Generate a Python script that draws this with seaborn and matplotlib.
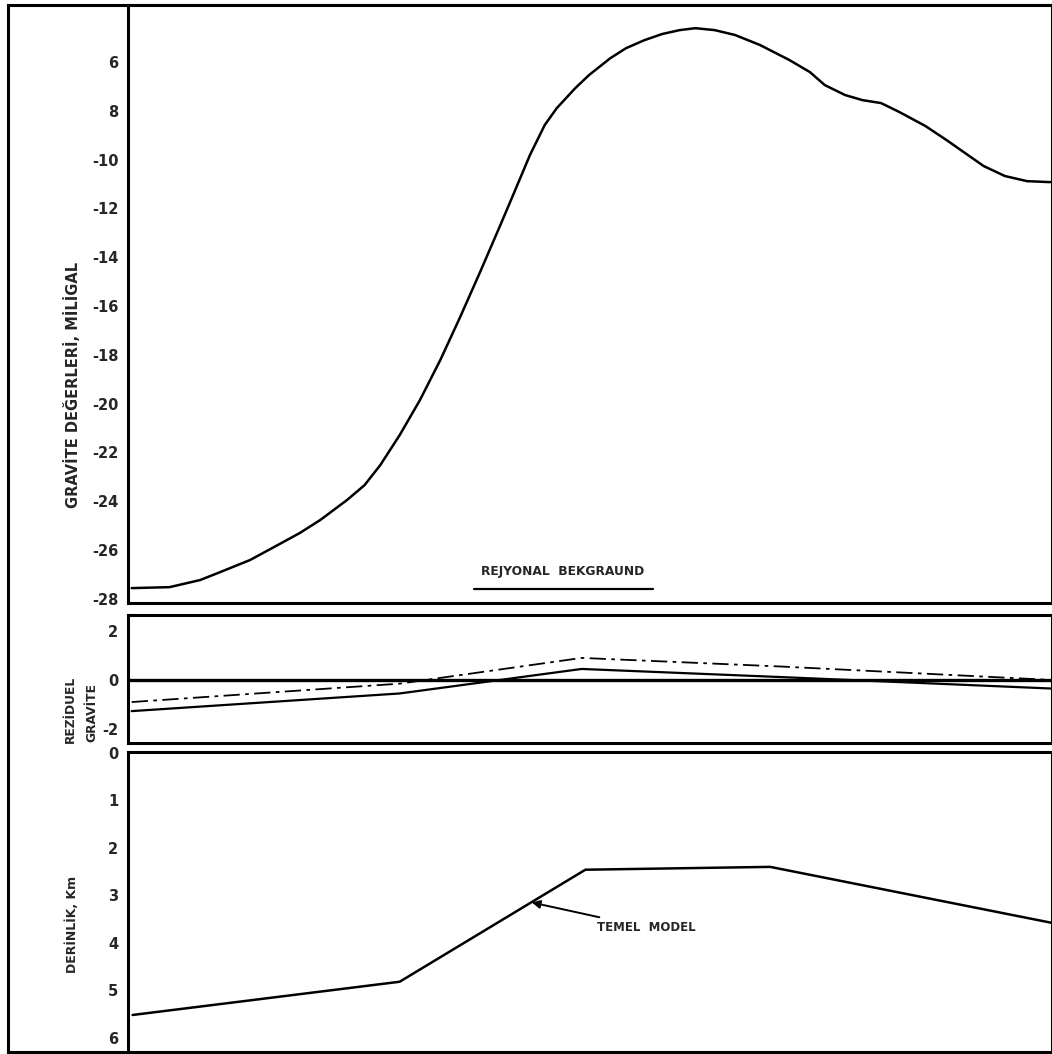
import matplotlib
matplotlib.use("Agg")
import matplotlib.pyplot as plt
import seaborn as sns
import pandas as pd

sns.set_style("white")
plt.rcParams['font.family'] = ['DejaVu Sans']
plt.rcParams['font.weight'] = 'bold'

# ---- data (distance along profile, 0-100) ----
grav_x = [0.4, 4.5, 7.8, 10.0, 13.2, 15.4, 18.6, 20.8, 23.7, 25.6, 27.3, 29.4, 31.6,
          33.8, 35.9, 38.1, 40.3, 41.9, 43.5, 45.1, 46.4, 48.4, 49.9, 52.2, 53.9,
          55.9, 57.8, 59.7, 61.4, 63.5, 65.7, 68.4, 71.6, 73.8, 75.4, 77.6, 79.5,
          81.5, 83.5, 86.3, 88.6, 90.6, 92.6, 94.9, 97.3, 99.8]
grav_y = [-27.56, -27.52, -27.23, -26.90, -26.41, -25.96, -25.30, -24.77, -23.95, -23.34,
          -22.52, -21.29, -19.85, -18.21, -16.49, -14.61, -12.68, -11.25, -9.81, -8.58,
          -7.89, -7.07, -6.53, -5.84, -5.43, -5.10, -4.85, -4.69, -4.61, -4.69, -4.89,
          -5.30, -5.92, -6.41, -6.94, -7.35, -7.56, -7.68, -8.05, -8.62, -9.20, -9.73,
          -10.26, -10.67, -10.88, -10.92]

model_x = [0.4, 29.4, 49.1, 70.6, 100.0]
resid_solid = [-1.27, -0.55, 0.45, 0.12, -0.35]
resid_dashdot = [-0.9, -0.15, 0.9, 0.55, 0.0]

depth_x = [0.5, 29.4, 49.5, 69.5, 100.0]
depth_km = [5.52, 4.82, 2.46, 2.4, 3.58]

grav_ticks = [-6, -8, -10, -12, -14, -16, -18, -20, -22, -24, -26, -28]
grav_labels = ["6", "8", "-10", "-12", "-14", "-16", "-18", "-20", "-22", "-24", "-26", "-28"]
resid_ticks = [2, 0, -2]
depth_ticks = [0, 1, 2, 3, 4, 5, 6]

df_g = pd.DataFrame({"x": grav_x, "g": grav_y})
df_r = pd.DataFrame({"x": model_x, "s": resid_solid, "d": resid_dashdot})
df_d = pd.DataFrame({"x": depth_x, "z": depth_km})

W, H = 1052, 1054
fig = plt.figure(figsize=(W / 100, H / 100), dpi=100)

# outer frame
bg = fig.add_axes([8 / W, 2 / H, 1 - 8 / W, 1 - 7 / H], zorder=0)
bg.set_xticks([])
bg.set_yticks([])
for s in ["left", "top", "bottom"]:
    bg.spines[s].set_linewidth(2.2)
    bg.spines[s].set_color("black")
bg.spines["right"].set_visible(False)


def axes_px(top, bottom):
    return fig.add_axes([128 / W, 1 - bottom / H, 1 - 128 / W, (bottom - top) / H], zorder=2)


ax1 = axes_px(5, 603)
ax2 = axes_px(615, 743)
ax3 = axes_px(752, 1052)

for ax in (ax1, ax2, ax3):
    ax.set_xlim(0, 100)
    ax.set_xticks([])
    for s in ax.spines.values():
        s.set_linewidth(2.2)
        s.set_color("black")
    ax.tick_params(axis="y", direction="in", length=5, width=1.5, labelsize=10.5, pad=7)

# ---- top: gravity ----
sns.lineplot(data=df_g, x="x", y="g", ax=ax1, color="black", lw=1.8)
ax1.set_ylim(-28.17, -3.66)
ax1.set_yticks(grav_ticks)
ax1.set_yticklabels(grav_labels, fontweight="bold")
ax1.set_xlabel("")
ax1.set_ylabel("")
fig.text(72 / W, 1 - 385 / H, "GRAVİTE DEĞERLERİ, MİLİGAL", rotation=90, ha="center",
         va="center", fontsize=10.5, fontweight="bold")
ax1.text(0.47, 0.042, "REJYONAL  BEKGRAUND", transform=ax1.transAxes, ha="center",
         va="bottom", fontsize=8.8, fontweight="bold")
ax1.plot([0.374, 0.568], [0.023, 0.023], transform=ax1.transAxes, color="black", lw=1.6)

# ---- middle: residual ----
ax2.axhline(0, color="black", lw=2.4)
sns.lineplot(data=df_r, x="x", y="s", ax=ax2, color="black", lw=1.6)
sns.lineplot(data=df_r, x="x", y="d", ax=ax2, color="black", lw=1.3)
ax2.lines[-1].set_dashes([9, 3, 2, 3])
ax2.set_ylim(-2.57, 2.65)
ax2.set_yticks(resid_ticks)
ax2.set_yticklabels(["2", "0", "-2"], fontweight="bold")
ax2.set_ylabel("")
ax2.set_xlabel("")
fig.text(70 / W, 1 - 709 / H, "REZİDUEL", rotation=90, ha="center", va="center",
         fontsize=8.8, fontweight="bold")
fig.text(92 / W, 1 - 712 / H, "GRAVİTE", rotation=90, ha="center", va="center",
         fontsize=8.8, fontweight="bold")

# ---- bottom: depth model ----
sns.lineplot(data=df_d, x="x", y="z", ax=ax3, color="black", lw=1.8)
ax3.set_ylim(6.3, -0.02)
ax3.set_yticks(depth_ticks)
ax3.set_yticklabels([str(t) for t in depth_ticks], fontweight="bold")
ax3.set_xlabel("")
ax3.set_ylabel("")
fig.text(72 / W, 1 - 924 / H, "DERİNLİK, Km", rotation=90, ha="center", va="center",
         fontsize=9, fontweight="bold")
ax3.annotate("TEMEL  MODEL", xy=(43.7, 3.15), xytext=(50.8, 3.68),
             fontsize=8.5, fontweight="bold", va="center", ha="left",
             arrowprops=dict(arrowstyle="-|>", color="black", lw=1.4,
                             shrinkA=2, shrinkB=0, mutation_scale=12))

fig.savefig("out.png", dpi=100)
